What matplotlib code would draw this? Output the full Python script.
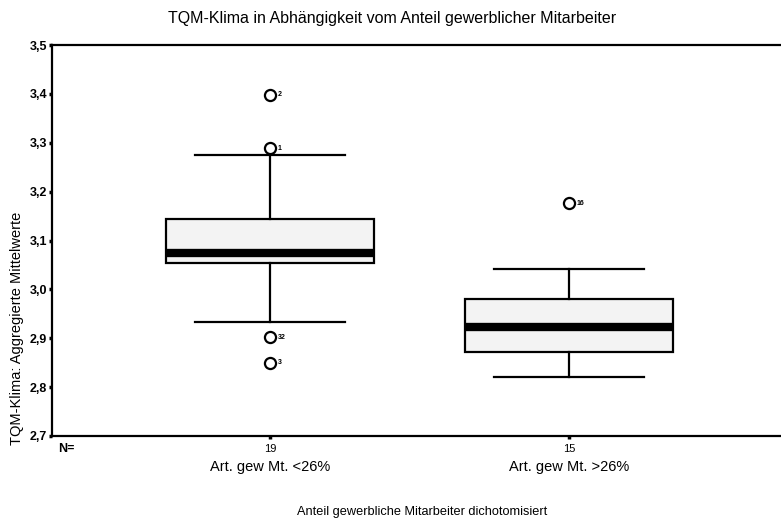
import matplotlib
matplotlib.use("Agg")
import matplotlib.pyplot as plt
from matplotlib import transforms

plt.rcParams['font.family'] = ['Liberation Sans', 'DejaVu Sans']

# box statistics
groups = ["Art. gew Mt. <26%", "Art. gew Mt. >26%"]
counts = [19, 15]
q1 = [3.053, 2.871]
med = [3.074, 2.924]
q3 = [3.145, 2.980]
whislo = [2.934, 2.820]
whishi = [3.275, 3.041]
outliers = [[3.398, 3.289, 2.902, 2.850], [3.176]]
outlier_ids = [["2", "1", "32", "3"], ["16"]]

yticks = [2.7, 2.8, 2.9, 3.0, 3.1, 3.2, 3.3, 3.4, 3.5]

fig = plt.figure(figsize=(7.81, 5.23), dpi=100)
ax = fig.add_axes([52 / 781, 1 - 436 / 523, 1 - 52 / 781, (436 - 45) / 523])

stats = []
for i in range(len(groups)):
    stats.append(dict(q1=q1[i], med=med[i], q3=q3[i], whislo=whislo[i],
                      whishi=whishi[i], fliers=outliers[i]))

ax.bxp(stats, positions=[1, 2], widths=0.695, patch_artist=True,
       boxprops=dict(facecolor="#f3f3f3", edgecolor="black", linewidth=1.6),
       medianprops=dict(color="black", linewidth=6, solid_capstyle="butt"),
       whiskerprops=dict(color="black", linewidth=1.6),
       capprops=dict(color="black", linewidth=1.6),
       capwidths=0.5,
       flierprops=dict(marker="o", markersize=8, markerfacecolor="white",
                       markeredgecolor="black", markeredgewidth=1.6))

for pos, vals, ids in zip([1, 2], outliers, outlier_ids):
    for v, label in zip(vals, ids):
        ax.text(pos + 0.025, v, label, fontsize=5, fontweight="bold",
                va="center", ha="left")

ax.set_xlim(0.271, 2.709)
ax.set_ylim(2.7, 3.5)
ax.spines["right"].set_visible(False)
for s in ["left", "top", "bottom"]:
    ax.spines[s].set_linewidth(1.6)

ax.set_yticks(yticks)
ax.set_yticklabels([f"{t:.1f}".replace(".", ",") for t in yticks],
                   fontsize=9, fontweight="bold")
ax.tick_params(axis="y", length=2.5, width=2.5, pad=1)

ax.set_xticks([1, 2])
ax.set_xticklabels([str(n) for n in counts], fontsize=8)
ax.tick_params(axis="x", length=2.5, width=2.5, pad=3, direction="out")

trans = transforms.blended_transform_factory(ax.transData, ax.transAxes)
for pos, label in zip([1, 2], groups):
    ax.text(pos, -0.08, label, transform=trans, ha="center", va="center",
            fontsize=10.5)
ax.text(0.008, -0.034, "N=", transform=ax.transAxes, ha="left", va="center",
        fontsize=9, fontweight="bold")

fig.text(392 / 781, 1 - 18 / 523,
         "TQM-Klima in Abhängigkeit vom Anteil gewerblicher Mitarbeiter",
         ha="center", va="center", fontsize=11.5)
fig.text(422 / 781, 1 - 512 / 523,
         "Anteil gewerbliche Mitarbeiter dichotomisiert",
         ha="center", va="center", fontsize=9.2)
fig.text(17 / 781, 1 - 328 / 523, "TQM-Klima: Aggregierte Mittelwerte",
         ha="center", va="center", rotation=90, fontsize=10.5)

fig.savefig("out.png", dpi=100)
